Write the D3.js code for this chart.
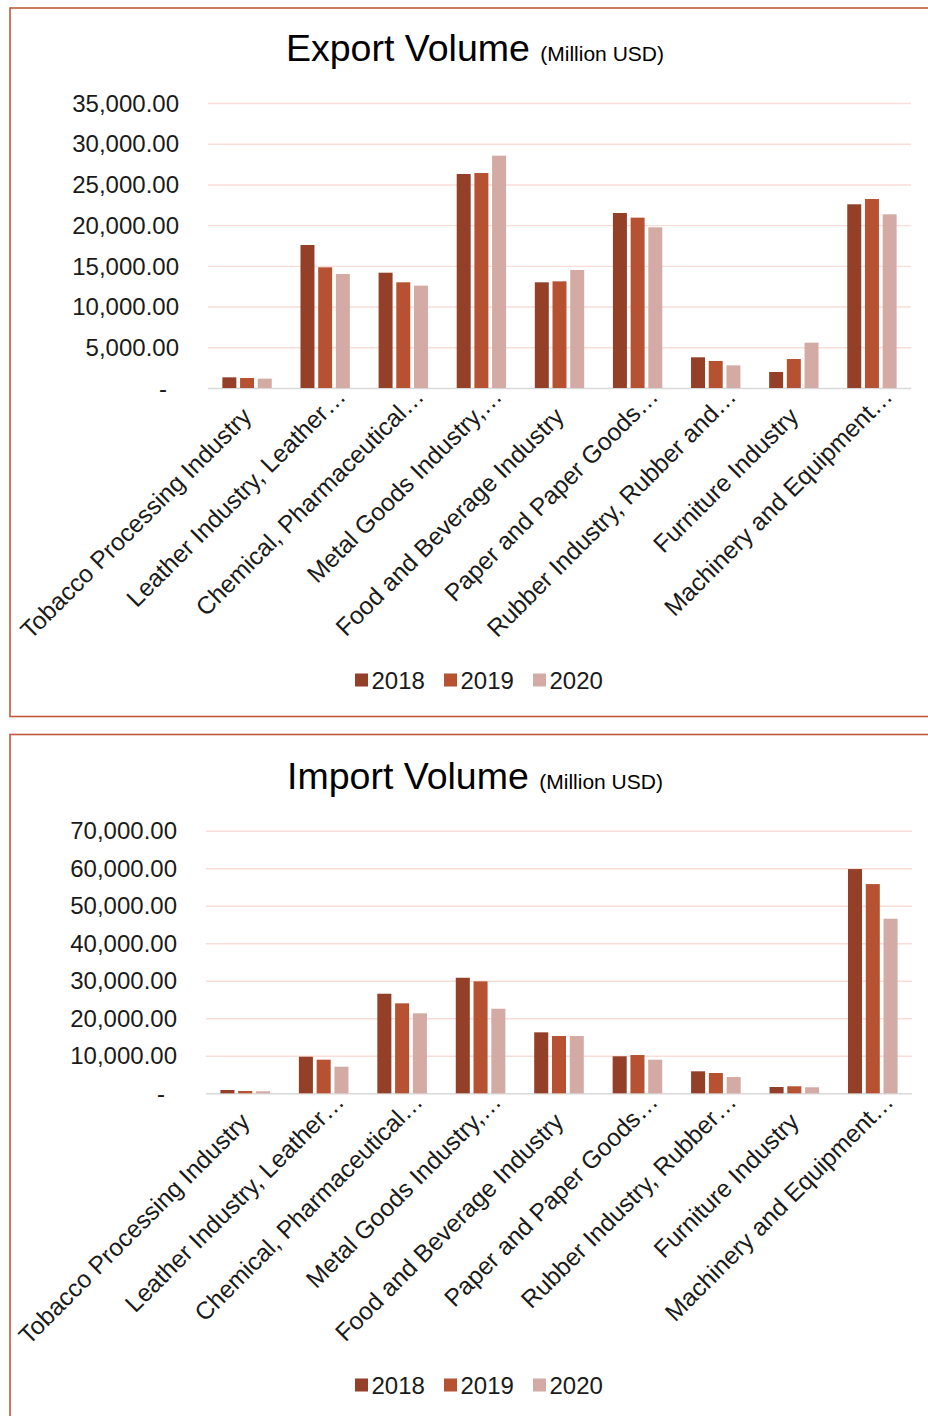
<!DOCTYPE html>
<html>
<head>
<meta charset="utf-8">
<script src="https://cdn.jsdelivr.net/npm/d3@7"></script>
<style>
  body { margin: 0; background: #fff; }
  svg text { font-family: "Liberation Sans", Arial, sans-serif; }
</style>
</head>
<body>
<div id="chart"></div>
<script>
var years = ["2018", "2019", "2020"]
var year_colors = ["#943F27", "#B65232", "#D4AAA4"]

var export_categories = ["Tobacco Processing Industry", "Leather Industry, Leather\u2026",
  "Chemical, Pharmaceutical\u2026", "Metal Goods Industry,\u2026", "Food and Beverage Industry",
  "Paper and Paper Goods\u2026", "Rubber Industry, Rubber and\u2026", "Furniture Industry",
  "Machinery and Equipment\u2026"]
var export_2018 = [1310, 17560, 14160, 26280, 12980, 21490, 3770, 1970, 22560]
var export_2019 = [1230, 14820, 12980, 26400, 13100, 20920, 3320, 3560, 23210]
var export_2020 = [1150, 14000, 12570, 28530, 14490, 19730, 2780, 5570, 21330]
var export_ticks = [0, 5000, 10000, 15000, 20000, 25000, 30000, 35000]

var import_categories = ["Tobacco Processing Industry", "Leather Industry, Leather\u2026",
  "Chemical, Pharmaceutical\u2026", "Metal Goods Industry,\u2026", "Food and Beverage Industry",
  "Paper and Paper Goods\u2026", "Rubber Industry, Rubber\u2026", "Furniture Industry",
  "Machinery and Equipment\u2026"]
var import_2018 = [880, 9750, 26540, 30800, 16250, 9860, 5860, 1680, 59770]
var import_2019 = [610, 8960, 23980, 29840, 15270, 10200, 5410, 1870, 55770]
var import_2020 = [530, 7090, 21320, 22540, 15270, 8960, 4340, 1600, 46530]
var import_ticks = [0, 10000, 20000, 30000, 40000, 50000, 60000, 70000]

var svg = d3.select("div#chart")
  .append("svg")
  .attr("width", 928)
  .attr("height", 1416)

var fmt = d3.format(",.2f")

function draw_chart(cfg) {
  var g = svg.append("g")

  // panel border
  g.append("rect")
    .attr("x", 10)
    .attr("y", cfg.panel_top)
    .attr("width", 1000)
    .attr("height", cfg.panel_height)
    .attr("fill", "none")
    .attr("stroke", "#C0593B")
    .attr("stroke-width", 1.6)

  var x0 = d3.scaleBand()
    .domain(cfg.categories)
    .range([cfg.left, cfg.right])
    .padding(0)

  var group_w = x0.bandwidth() * 0.632
  var x1 = d3.scaleBand()
    .domain(years)
    .range([0, group_w])
    .paddingInner(0.21)
    .paddingOuter(0)

  var y = d3.scaleLinear()
    .domain([0, cfg.ticks[cfg.ticks.length - 1]])
    .range([cfg.bottom, cfg.top])

  // y axis + gridlines
  var yaxis = g.append("g")
    .attr("transform", "translate(" + cfg.left + ",0)")
    .call(d3.axisLeft(y)
      .tickValues(cfg.ticks)
      .tickSize(-(cfg.right - cfg.left))
      .tickPadding(29)
      .tickFormat(function (d) { return d == 0 ? "-" : fmt(d) }))
  yaxis.select(".domain").remove()
  yaxis.selectAll(".tick line")
    .attr("stroke", function (d) { return d == 0 ? "#D9D9D9" : "#F9DDD8" })
    .attr("stroke-width", 1.4)
  yaxis.selectAll(".tick text")
    .attr("font-family", "Liberation Sans, Arial, sans-serif")
    .attr("font-size", 24)
    .attr("fill", "#1a1a1a")
    .attr("dy", "0.34em")
    .attr("x", function (d) { return d == 0 ? -41 : -29 })

  // bars
  var rows = cfg.categories.map(function (c, i) {
    return { cat: c, values: cfg.series.map(function (s) { return s[i] }) }
  })
  var groups = g.selectAll(".grp")
    .data(rows)
    .enter()
    .append("g")
    .attr("class", "grp")
    .attr("transform", function (d) {
      return "translate(" + (x0(d.cat) + (x0.bandwidth() - group_w) / 2) + ",0)"
    })
  groups.selectAll("rect")
    .data(function (d) { return d.values })
    .enter()
    .append("rect")
    .attr("x", function (d, i) { return x1(years[i]) })
    .attr("y", function (d) { return y(d) })
    .attr("width", x1.bandwidth())
    .attr("height", function (d) { return cfg.bottom - y(d) })
    .attr("fill", function (d, i) { return year_colors[i] })

  // category labels, rotated
  var xaxis = g.append("g")
    .attr("transform", "translate(0," + cfg.bottom + ")")
    .call(d3.axisBottom(x0).tickSize(0))
  xaxis.select(".domain").remove()
  xaxis.selectAll(".tick text")
    .attr("font-family", "Liberation Sans, Arial, sans-serif")
    .attr("font-size", 24.6)
    .attr("fill", "#1a1a1a")
    .attr("text-anchor", "end")
    .attr("x", 0)
    .attr("y", 0)
    .attr("dy", 0)
    .attr("transform", function (d) {
      // truncated labels sit a bit higher, like in Excel
      if (d.endsWith("\u2026")) {
        return "translate(22,10) rotate(-45)"
      }
      return "translate(6,30) rotate(-45)"
    })

  // title
  var title = g.append("text")
    .attr("x", 475)
    .attr("y", cfg.top - 42)
    .attr("text-anchor", "middle")
    .attr("fill", "#000")
  title.append("tspan")
    .attr("font-size", 37.5)
    .text(cfg.title + " ")
  title.append("tspan")
    .attr("font-size", 21)
    .text("(Million USD)")

  // legend
  var legend = g.selectAll(".leg")
    .data(years)
    .enter()
    .append("g")
    .attr("class", "leg")
    .attr("transform", function (d, i) {
      return "translate(" + (355 + i * 89) + "," + cfg.legend_y + ")"
    })
  legend.append("rect")
    .attr("x", 0)
    .attr("y", -6.5)
    .attr("width", 13)
    .attr("height", 13)
    .attr("fill", function (d, i) { return year_colors[i] })
  legend.append("text")
    .attr("x", 16.5)
    .attr("y", 8.6)
    .attr("font-size", 24)
    .attr("fill", "#1a1a1a")
    .text(function (d) { return d })
}

draw_chart({
  title: "Export Volume",
  categories: export_categories,
  series: [export_2018, export_2019, export_2020],
  ticks: export_ticks,
  panel_top: 8, panel_height: 708.5,
  top: 103, bottom: 388, left: 208, right: 911,
  legend_y: 680
})

draw_chart({
  title: "Import Volume",
  categories: import_categories,
  series: [import_2018, import_2019, import_2020],
  ticks: import_ticks,
  panel_top: 734.5, panel_height: 800,
  top: 830.7, bottom: 1093.3, left: 206, right: 912,
  legend_y: 1385
})
</script>
</body>
</html>
